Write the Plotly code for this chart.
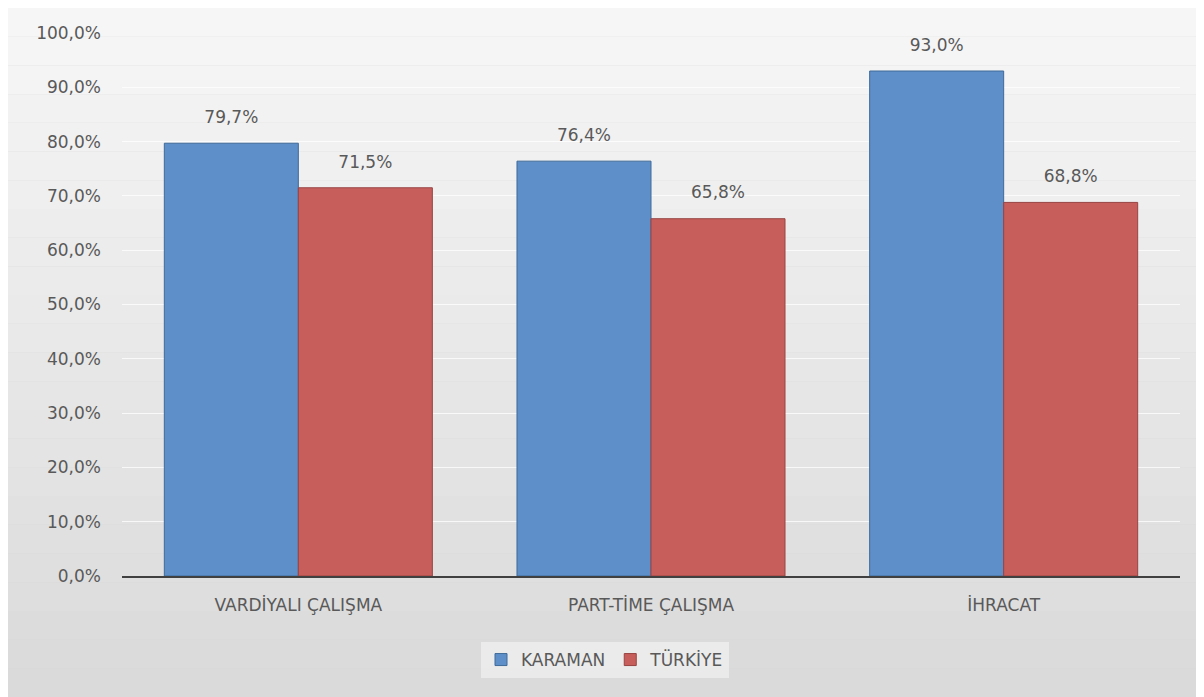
import plotly.graph_objects as go

categories = ["VARDİYALI ÇALIŞMA", "PART-TİME ÇALIŞMA", "İHRACAT"]
karaman = [79.7, 76.4, 93.0]
turkiye = [71.5, 65.8, 68.8]
series_names = ["KARAMAN", "TÜRKİYE"]
tick_vals = [0, 10, 20, 30, 40, 50, 60, 70, 80, 90, 100]
tick_text = [("%.1f%%" % v).replace(".", ",") for v in tick_vals]

OFF = 8  # page body margin
W, H = 1204 - OFF, 697 - OFF
L, R, T, B = 122 - OFF, 24, 33 - OFF, 121
pw, ph = W - L - R, H - T - B

def px(x):
    return (x - OFF - L) / pw

def py(y):
    return (H - B - (y - OFF)) / ph

font_family = "'DejaVu Sans', sans-serif"
txt_col = "#595959"
fs = 17

fig = go.Figure()
series = [(series_names[0], karaman, "#5f8fc9", "#3f6a99", "k"),
          (series_names[1], turkiye, "#c75e5b", "#984443", "t")]
for name, vals, fill, edge, grp in series:
    fig.add_trace(go.Bar(
        x=categories, y=vals, name=name, offsetgroup=grp,
        marker=dict(color=fill, line=dict(color=edge, width=1)),
    ))
for name, vals, fill, edge, grp in series:
    fig.add_trace(go.Scatter(
        x=categories, y=vals, offsetgroup=grp, mode="text+markers",
        marker=dict(size=24, opacity=0), showlegend=False, hoverinfo="skip",
        text=[("%.1f%%" % v).replace(".", ",") for v in vals], textposition="top center",
        textfont=dict(size=fs, color=txt_col, family=font_family), cliponaxis=False,
    ))

shapes = []
n = 24
top_c = (246, 246, 246)
bot_c = (218, 218, 218)
y0p, y1p = OFF, 697
for i in range(n):
    t = i / (n - 1)
    c = tuple(int(round(top_c[k] + (bot_c[k] - top_c[k]) * t)) for k in range(3))
    ya = y0p + (y1p - y0p) * i / n
    yb = y0p + (y1p - y0p) * (i + 1) / n
    shapes.append(dict(type="rect", xref="paper", yref="paper", layer="below",
                       x0=px(OFF), x1=px(1200), y0=py(yb), y1=py(ya),
                       fillcolor="rgb(%d,%d,%d)" % c, line=dict(width=0)))

fig.update_layout(
    width=W, height=H,
    margin=dict(l=L, r=R, t=T, b=B),
    paper_bgcolor="#d6d6d6",
    plot_bgcolor="rgba(0,0,0,0)",
    separators=",.",
    barmode="group",
    scattermode="group",
    bargap=0.24,
    bargroupgap=0,
    scattergap=0.24,
    shapes=shapes,
    font=dict(family=font_family, size=fs, color=txt_col),
    showlegend=True,
    legend=dict(orientation="h", x=px(605), xanchor="center", y=py(660), yanchor="middle",
                bgcolor="rgba(245,245,245,0.6)", font=dict(size=fs, color=txt_col),
                traceorder="normal", itemwidth=30),
    xaxis=dict(showgrid=False, showline=True, linecolor="#404040", linewidth=2,
               ticks="", ticklabelstandoff=13,
               tickfont=dict(size=fs, color=txt_col), fixedrange=True),
    yaxis=dict(range=[0, 100], tickvals=tick_vals, ticktext=tick_text,
               showgrid=True, gridcolor="rgba(255,255,255,0.75)", gridwidth=1,
               zeroline=False, showline=False, ticks="", ticklen=0, ticklabelstandoff=20,
               tickfont=dict(size=fs, color=txt_col)),
)
fig.write_html("out.html")
